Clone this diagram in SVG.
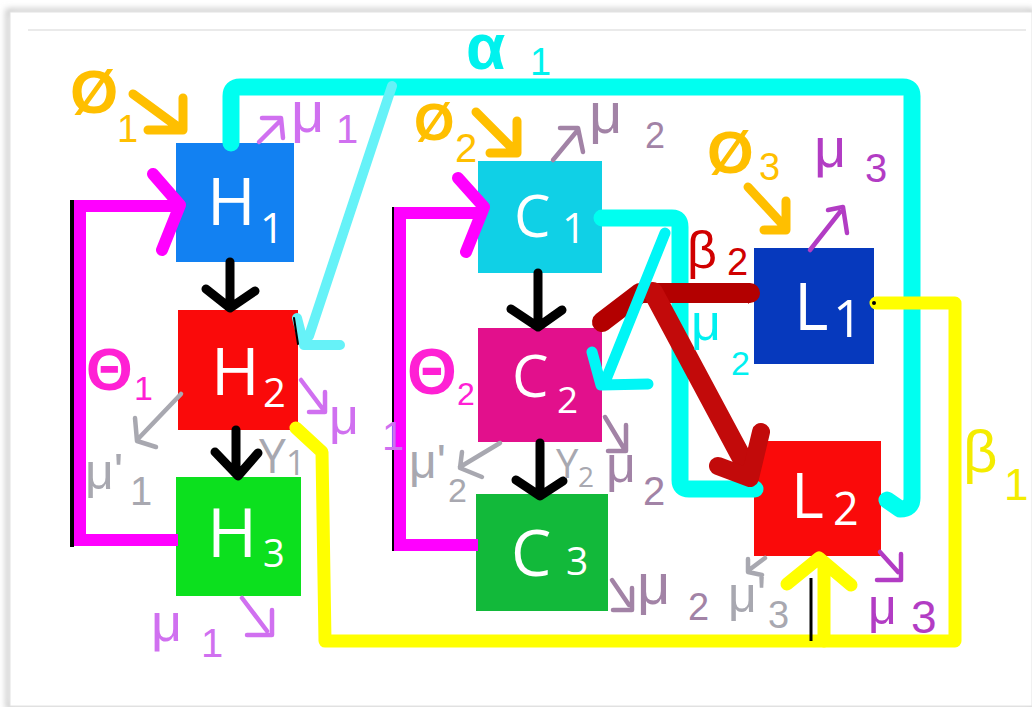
<svg xmlns="http://www.w3.org/2000/svg" width="1032" height="707" viewBox="0 0 1032 707">
<style>
.box text{font-family:"Open Sans","Liberation Sans",sans-serif;fill:#fff}
.g{font-family:"Liberation Sans","DejaVu Sans",sans-serif}
.typed{font-family:"Open Sans","Liberation Sans",sans-serif}
.ln{fill:none;stroke-linecap:round;stroke-linejoin:round}
.blk{stroke:#000;stroke-width:9}
.mag{stroke:#ff00ff;stroke-width:12;stroke-linejoin:miter;stroke-linecap:butt}
.magh{stroke:#ff00ff;stroke-width:12}
.yel{stroke:#ffff00;stroke-width:13}
.cy{stroke:#00fff0;stroke-width:17}
.org{stroke:#ffbf00;stroke-width:9}
.vio{stroke:#d070f0;stroke-width:4.5}
.mau{stroke:#a283a6;stroke-width:4.5}
.pur{stroke:#b23cc4;stroke-width:4.5}
.gry{stroke:#a8a8b0;stroke-width:4.5}
</style>
<defs>
<filter id="sh" x="-3%" y="-3%" width="106%" height="106%">
<feGaussianBlur stdDeviation="3"/>
</filter>
</defs>
<rect width="1032" height="707" fill="#fff"/>
<g id="frame">
<rect x="8" y="11" width="1024" height="696" fill="none" stroke="#bcbcbc" stroke-width="4" filter="url(#sh)"/>
<rect x="10" y="12" width="1022" height="694" fill="#fff" stroke="#e2e2e2" stroke-width="1"/>
<line x1="28" y1="30" x2="1026" y2="30" stroke="#d6d6d6" stroke-width="1.2"/>
</g>

<g id="nodes">
<g id="H1" class="box"><rect x="176" y="143" width="118" height="119" fill="#1281f2"/>
<text><tspan x="207" y="225" font-size="66">H</tspan><tspan x="260" y="243" font-size="42">1</tspan></text></g>
<g id="H2" class="box"><rect x="178" y="310" width="120" height="120" fill="#fa0a0a"/>
<text><tspan x="211" y="395" font-size="66">H</tspan><tspan x="263" y="407" font-size="40">2</tspan></text></g>
<g id="H3" class="box"><rect x="176" y="477" width="125" height="119" fill="#0ce01e"/>
<text><tspan x="207" y="557" font-size="68">H</tspan><tspan x="263" y="567" font-size="38">3</tspan></text></g>
<g id="C1" class="box"><rect x="478" y="161" width="124" height="112" fill="#10d0e6"/>
<text><tspan x="514" y="237" font-size="58">C</tspan><tspan x="562" y="243" font-size="42">1</tspan></text></g>
<g id="C2" class="box"><rect x="478" y="328" width="124" height="114" fill="#e2108c"/>
<text><tspan x="512" y="397" font-size="58">C</tspan><tspan x="557" y="413" font-size="37">2</tspan></text></g>
<g id="C3" class="box"><rect x="476" y="494" width="132" height="117" fill="#12b93a"/>
<text><tspan x="511" y="576" font-size="64">C</tspan><tspan x="566" y="575" font-size="39">3</tspan></text></g>
<g id="L1" class="box"><rect x="754" y="248" width="120" height="116" fill="#0639bd"/>
<text><tspan x="794" y="330" font-size="66">L</tspan><tspan x="833" y="337" font-size="52">1</tspan></text></g>
<g id="L2" class="box"><rect x="754" y="441" width="127" height="115" fill="#fa0a0a"/>
<text><tspan x="791" y="518" font-size="63">L</tspan><tspan x="833" y="525" font-size="45">2</tspan></text></g>
</g>

<g id="connectors">
<path class="ln cy" d="M231,143 V96 Q231,87 240,87 H903 Q912,87 912,96 V498 Q912,509 900,509 L887,500"/>
<path class="ln" stroke="#66f2f8" stroke-width="10" d="M392,86 L309,336 M297,318 L304,345 L340,345"/>
<path class="ln" stroke="#000" stroke-width="2" d="M294,318 L298,344"/>
<path class="ln blk" d="M230,262 V305 M206,289 L230,308 L255,291"/>
<path class="ln blk" d="M236,430 V473 M215,452 L238,476 L258,453"/>
<path class="ln blk" d="M538,273 V323 M511,309 L538,327 L562,310"/>
<path class="ln blk" d="M540,443 V492 M516,480 L540,496 L563,481"/>
<path stroke="#000" stroke-width="4" fill="none" d="M72,200 V547"/>
<path class="ln mag" d="M178,540 H80 V206 H176"/>
<path class="ln magh" d="M153,174 L180,205 L162,250"/>
<path stroke="#000" stroke-width="4" fill="none" d="M394,207 V551"/>
<path class="ln mag" d="M478,545 H400 V213 H478"/>
<path class="ln magh" d="M458,178 L484,207 L466,252"/>
<path class="ln yel" d="M296,428 L322,452 L325,641 H955 V303 H876"/>
<path stroke="#000" stroke-width="3" fill="none" d="M811,578 V641"/>
<path class="ln yel" d="M824,641 V562 M787,584 L819,558 L851,585"/>
<circle cx="874" cy="303" r="2" fill="#000"/>
<path class="ln cy" d="M602,218 H672 Q680,218 680,227 V480 Q680,489 689,489 H755"/>
<path class="ln" stroke="#b30000" stroke-width="20" d="M602,322 L640,293 H750"/>
<polygon points="748,283 760,294 748,304" fill="#b30000"/>
<path class="ln" stroke="#c20a0a" stroke-width="20" d="M653,292 L744,462"/>
<path class="ln" stroke="#c20a0a" stroke-width="18" d="M718,466 L750,478 L761,432"/>
<path class="ln" stroke="#00f6f6" stroke-width="11" d="M665,233 L607,377 M592,352 L601,385 L648,384"/>
<path class="ln org" d="M133,94 L178,127 M183,98 V130 H148"/>
<path class="ln org" d="M476,112 L513,149 M517,121 V153 H490"/>
<path class="ln org" d="M748,187 L784,226 M786,201 V230 H764"/>
<path class="ln vio" d="M259,142 L280,121 M262,118 L281,118 L283,138"/>
<path class="ln vio" d="M301,380 L322,408 M325,392 V412 H309"/>
<path class="ln vio" d="M242,598 L267,631 M272,610 V635 H247"/>
<path class="ln mau" d="M553,160 L577,131 M560,128 L578,128 L583,152"/>
<path class="ln mau" d="M605,417 L623,447 M626,425 V451 H608"/>
<path class="ln mau" d="M612,580 L629,605 M632,588 V610 H613"/>
<path class="ln pur" d="M810,250 L840,212 M828,210 L843,207 L847,233"/>
<path class="ln pur" d="M880,552 L898,572 M901,554 V580 H877"/>
<path class="ln gry" d="M181,394 L137,440 M135,418 L137,441 L156,447"/>
<path class="ln gry" d="M500,443 L460,467 M462,452 L460,468 L482,477"/>
<path class="ln gry" d="M765,558 L749,570 M748,559 L748,572 L762,575"/>
</g>

<g id="labels" class="g">
<text fill="#ffbf00"><tspan x="70" y="113" font-size="62" font-weight="bold">Ø</tspan><tspan x="117" y="142" font-size="38">1</tspan></text>
<text fill="#ffbf00"><tspan x="414" y="140" font-size="52" font-weight="bold">Ø</tspan><tspan x="455" y="162" font-size="40">2</tspan></text>
<text fill="#ffbf00"><tspan x="707" y="173" font-size="60" font-weight="bold">Ø</tspan><tspan x="759" y="180" font-size="38">3</tspan></text>
<text fill="#00f2ee"><tspan x="466" y="69" font-size="64" font-weight="bold">α</tspan><tspan x="530" y="75" font-size="38">1</tspan></text>
<text fill="#ff20d4"><tspan x="86" y="390" font-size="60" font-weight="bold">Θ</tspan><tspan x="134" y="400" font-size="34">1</tspan></text>
<text fill="#ff20d4"><tspan x="407" y="394" font-size="64" font-weight="bold">Θ</tspan><tspan x="457" y="405" font-size="32">2</tspan></text>
<text fill="#d00000"><tspan x="687" y="268" font-size="52">β</tspan><tspan x="727" y="275" font-size="38">2</tspan></text>
<text fill="#f4ec00"><tspan x="963" y="472" font-size="60">β</tspan><tspan x="1004" y="500" font-size="44">1</tspan></text>
<text fill="#00f0f0"><tspan x="691" y="340" font-size="52">μ</tspan><tspan x="731" y="375" font-size="34">2</tspan></text>
<text fill="#d070f0"><tspan x="291" y="132" font-size="58">μ</tspan><tspan x="336" y="143" font-size="40">1</tspan></text>
<text fill="#d070f0"><tspan x="329" y="434" font-size="52">μ</tspan><tspan x="382" y="450" font-size="40">1</tspan></text>
<text fill="#d070f0"><tspan x="151" y="641" font-size="54">μ</tspan><tspan x="201" y="657" font-size="40">1</tspan></text>
<text fill="#a283a6"><tspan x="589" y="133" font-size="58">μ</tspan><tspan x="645" y="148" font-size="36">2</tspan></text>
<text fill="#a283a6"><tspan x="606" y="482" font-size="52">μ</tspan><tspan x="643" y="505" font-size="40">2</tspan></text>
<text fill="#a283a6"><tspan x="637" y="604" font-size="58">μ</tspan><tspan x="688" y="620" font-size="38">2</tspan></text>
<text fill="#b23cc4"><tspan x="814" y="167" font-size="56">μ</tspan><tspan x="865" y="182" font-size="40">3</tspan></text>
<text fill="#b23cc4"><tspan x="868" y="624" font-size="50">μ</tspan><tspan x="911" y="633" font-size="46">3</tspan></text>
<text fill="#a8a8b0"><tspan x="85" y="489" font-size="50">μ'</tspan><tspan x="130" y="505" font-size="40">1</tspan></text>
<text fill="#a8a8b0"><tspan x="409" y="478" font-size="48">μ'</tspan><tspan x="448" y="502" font-size="34">2</tspan></text>
<text fill="#a8a8b0"><tspan x="728" y="612" font-size="50">μ'</tspan><tspan x="768" y="628" font-size="38">3</tspan></text>
<text class="typed" fill="#a8a8b0"><tspan x="259" y="473" font-size="48">Y</tspan><tspan x="286" y="475" font-size="34">1</tspan></text>
<text class="typed" fill="#a8a8b0"><tspan x="556" y="478" font-size="40">Y</tspan><tspan x="578" y="487" font-size="28">2</tspan></text>
</g>
</svg>
